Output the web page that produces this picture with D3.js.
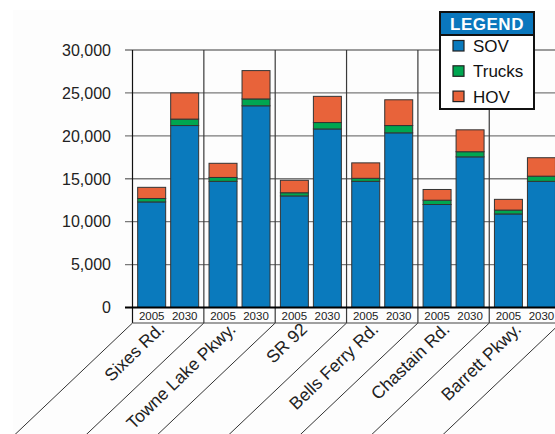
<!DOCTYPE html>
<html>
<head>
<meta charset="utf-8">
<script src="https://cdn.jsdelivr.net/npm/d3@7"></script>
<style>
  body { margin: 0; background: #fff; }
  svg { display: block; font-family: 'Liberation Sans', Arial, sans-serif; }
  .grid line { stroke: #7a7a7a; stroke-width: 1.3px; }
  .vgrid line { stroke: #3a3a3a; stroke-width: 1.2px; }
  .tick-label { font-size: 16px; fill: #222; }
  .year { font-size: 11.5px; fill: #222; }
  .road { font-size: 17.5px; fill: #222; }
  rect.seg { stroke: #333; stroke-width: 1px; }
</style>
</head>
<body>
<div id="chart"></div>
<script>
// road segments along the x axis
const roads = ["Sixes Rd.", "Towne Lake Pkwy.", "SR 92", "Bells Ferry Rd.", "Chastain Rd.", "Barrett Pkwy."];
const years = ["2005", "2030"];

// daily volumes
const sov2005    = [12300, 14700, 13000, 14700, 12000, 10900];
const trucks2005 = [400, 450, 370, 350, 500, 450];
const hov2005    = [1300, 1650, 1450, 1800, 1250, 1250];
const sov2030    = [21200, 23500, 20800, 20350, 17550, 14700];
const trucks2030 = [750, 800, 750, 850, 600, 600];
const hov2030    = [3050, 3300, 3050, 3000, 2550, 2150];

const yTicks = [0, 5000, 10000, 15000, 20000, 25000, 30000];
const seriesKeys = ["SOV", "Trucks", "HOV"];
const colors = {SOV: "#0a7abd", Trucks: "#00a651", HOV: "#e8633a"};

let width = 555,
    height = 434,
    plotLeft = 132.5,
    groupW = 71.35,
    zeroY = 307.5,
    topY = 50,
    rowBottom = 323;

// flat rows for stacking
let rows = [];
roads.forEach((r, i) => {
    rows.push({road: r, year: "2005", SOV: sov2005[i], Trucks: trucks2005[i], HOV: hov2005[i]});
    rows.push({road: r, year: "2030", SOV: sov2030[i], Trucks: trucks2030[i], HOV: hov2030[i]});
});

let svg = d3.select("#chart").append("svg")
    .attr("width", width)
    .attr("height", height);

// faint backdrop like the original export
svg.append("rect")
    .attr("x", 13).attr("y", 10)
    .attr("width", width).attr("height", height)
    .attr("fill", "#fdfdfd");

let x0 = d3.scaleBand()
    .domain(roads)
    .range([plotLeft, plotLeft + groupW * roads.length]);

let x1 = d3.scaleBand()
    .domain(years)
    .range([0, x0.bandwidth()])
    .paddingInner(0.152)
    .paddingOuter(0.157);

let y = d3.scaleLinear()
    .domain([0, 30000])
    .range([zeroY, topY]);

// horizontal gridlines + tick marks
svg.append("g").attr("class", "grid")
    .selectAll("line")
    .data(yTicks.filter(d => d > 0))
    .enter().append("line")
    .attr("x1", 125).attr("x2", width)
    .attr("y1", d => y(d)).attr("y2", d => y(d));

// group separators (through the year row)
let bounds = roads.map(r => x0(r)).concat([x0.range()[1]]);
svg.append("g").attr("class", "vgrid")
    .selectAll("line")
    .data(bounds)
    .enter().append("line")
    .attr("x1", d => d).attr("x2", d => d)
    .attr("y1", topY).attr("y2", rowBottom)
    .style("stroke", (d, i) => i === 0 ? "#111" : null);

// diagonal label lanes
let slope = Math.tan(43.5 * Math.PI / 180);
svg.append("g")
    .selectAll("line")
    .data(bounds)
    .enter().append("line")
    .attr("x1", d => d).attr("y1", rowBottom)
    .attr("x2", d => d - 140 / slope).attr("y2", rowBottom + 140)
    .style("stroke", "#333")
    .style("stroke-width", 1);

// bottom of year row
svg.append("line")
    .attr("x1", plotLeft).attr("x2", width)
    .attr("y1", rowBottom).attr("y2", rowBottom)
    .style("stroke", "#444").style("stroke-width", 1.2);

// y tick labels
svg.append("g")
    .selectAll("text")
    .data(yTicks)
    .enter().append("text")
    .attr("class", "tick-label")
    .attr("x", 111)
    .attr("y", d => y(d))
    .attr("dy", "0.36em")
    .attr("text-anchor", "end")
    .text(d => d3.format(",")(d));

// stacked bars
let stack = d3.stack().keys(seriesKeys);
let layers = stack(rows);

svg.append("g")
    .selectAll("g")
    .data(layers)
    .enter().append("g")
    .attr("fill", d => colors[d.key])
    .selectAll("rect")
    .data(d => d)
    .enter().append("rect")
    .attr("class", "seg")
    .attr("x", d => x0(d.data.road) + x1(d.data.year))
    .attr("width", x1.bandwidth())
    .attr("y", d => y(d[1]))
    .attr("height", d => y(d[0]) - y(d[1]));

// zero line
svg.append("line")
    .attr("x1", 125).attr("x2", width)
    .attr("y1", zeroY).attr("y2", zeroY)
    .style("stroke", "#000").style("stroke-width", 2);

// year labels
svg.append("g")
    .selectAll("text")
    .data(rows)
    .enter().append("text")
    .attr("class", "year")
    .attr("x", d => x0(d.road) + x1(d.year) + x1.bandwidth() / 2)
    .attr("y", 319.5)
    .attr("text-anchor", "middle")
    .text(d => d.year);

// rotated road names
svg.append("g")
    .selectAll("text")
    .data(roads)
    .enter().append("text")
    .attr("class", "road")
    .attr("transform", d => "translate(" + (x0(d) + x0.bandwidth() / 2 - 7) + "," + 326 + ") rotate(-44)")
    .attr("dy", "0.35em")
    .attr("text-anchor", "end")
    .text(d => d);

// legend
let lg = svg.append("g").attr("transform", "translate(440,12)");
lg.append("rect")
    .attr("width", 94).attr("height", 97)
    .attr("fill", "#fff")
    .attr("stroke", "#111").attr("stroke-width", 2);
lg.append("rect")
    .attr("width", 94).attr("height", 23)
    .attr("fill", "#0a77bd")
    .attr("stroke", "#111").attr("stroke-width", 2);
lg.append("text")
    .attr("x", 47).attr("y", 18)
    .attr("text-anchor", "middle")
    .style("font-size", "17px")
    .style("font-weight", "bold")
    .style("letter-spacing", "0.5px")
    .style("fill", "#fff")
    .text("LEGEND");

let items = lg.selectAll("g.item")
    .data(seriesKeys)
    .enter().append("g")
    .attr("class", "item")
    .attr("transform", (d, i) => "translate(13," + (28.5 + i * 25.3) + ")");
items.append("rect")
    .attr("width", 11).attr("height", 10.5)
    .attr("fill", d => colors[d])
    .attr("stroke", "#222").attr("stroke-width", 1.2);
items.append("text")
    .attr("x", 20).attr("y", 5.5)
    .attr("dy", "0.36em")
    .style("font-size", "17px")
    .style("fill", "#111")
    .text(d => d);
</script>
</body>
</html>
